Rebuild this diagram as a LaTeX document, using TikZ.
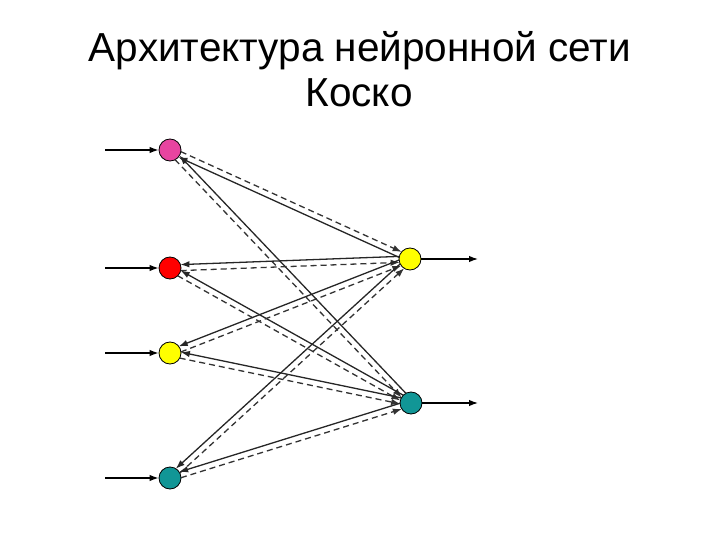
\documentclass[tikz,border=0pt]{standalone}
\usepackage{fontspec}
\setmainfont{Liberation Sans}
\usepackage{xcolor}
\usetikzlibrary{arrows.meta, calc}

\definecolor{kpink}{RGB}{232,68,160}
\definecolor{kred}{RGB}{255,0,0}
\definecolor{kyellow}{RGB}{255,255,0}
\definecolor{kteal}{RGB}{17,150,150}

\begin{document}
\begin{tikzpicture}[x=1pt,y=-1pt,line width=1.3pt,>={Latex[length=9pt,width=6.5pt]},
  neuron/.style={draw,circle,line width=0.8pt,inner sep=0pt,minimum size=22pt},
  back/.style={->,draw=black!85,shorten >=10.5pt,shorten <=10.5pt},
  fwd/.style={->,draw=black!80,dash pattern=on 6pt off 4pt,shorten >=10.5pt,shorten <=10.5pt}]
  \useasboundingbox (0,0) rectangle (720,540);
  %\tiny
  \node[anchor=base] (t1) at (360,62) {\fontsize{40.5}{48}\selectfont Архитектура нейронной сети};
  \node[anchor=base] (t2) at (359,107) {\fontsize{40.5}{48}\selectfont Коско};

  \node[neuron,fill=kpink] (l1) at (170,150) {};
  \node[neuron,fill=kred] (l2) at (170,268) {};
  \node[neuron,fill=kyellow] (l3) at (170,353) {};
  \node[neuron,fill=kteal] (l4) at (170,478) {};

  \node[neuron,fill=kyellow] (r1) at (410,259) {};
  \node[neuron,fill=kteal] (r2) at (411,403) {};

  \coordinate (i1) at (105,150);
  \coordinate (i2) at (105,268);
  \coordinate (i3) at (105,353);
  \coordinate (i4) at (105,478);
  \coordinate (o1) at (478,259);
  \coordinate (o2) at (478,403);

  \draw[->] (i1) -- (l1);
  \draw[->] (i2) -- (l2);
  \draw[->] (i3) -- (l3);
  \draw[->] (i4) -- (l4);
  \draw[->] (r1) -- (o1);
  \draw[->] (r2) -- (o2);

  % pink <-> yellow: dashed on top
  \draw[back] ($(r1)!3pt!90:(l1)$) -- ($(l1)!3pt!-90:(r1)$);
  \draw[fwd] ($(l1)!3pt!90:(r1)$) -- ($(r1)!3pt!-90:(l1)$);

  \draw[back] ($(r2)!3pt!-90:(l1)$) -- ($(l1)!3pt!90:(r2)$);
  \draw[fwd] ($(l1)!3pt!-90:(r2)$) -- ($(r2)!3pt!90:(l1)$);

  \draw[back] ($(r1)!3pt!-90:(l2)$) -- ($(l2)!3pt!90:(r1)$);
  \draw[fwd] ($(l2)!3pt!-90:(r1)$) -- ($(r1)!3pt!90:(l2)$);
  \draw[back] ($(r2)!3pt!-90:(l2)$) -- ($(l2)!3pt!90:(r2)$);
  \draw[fwd] ($(l2)!3pt!-90:(r2)$) -- ($(r2)!3pt!90:(l2)$);

  \draw[back] ($(r1)!3pt!-90:(l3)$) -- ($(l3)!3pt!90:(r1)$);
  \draw[fwd] ($(l3)!3pt!-90:(r1)$) -- ($(r1)!3pt!90:(l3)$);
  \draw[back] ($(r2)!3pt!-90:(l3)$) -- ($(l3)!3pt!90:(r2)$);
  \draw[fwd] ($(l3)!3pt!-90:(r2)$) -- ($(r2)!3pt!90:(l3)$);

  \draw[back] ($(r1)!3pt!-90:(l4)$) -- ($(l4)!3pt!90:(r1)$);
  \draw[fwd] ($(l4)!3pt!-90:(r1)$) -- ($(r1)!3pt!90:(l4)$);
  \draw[back] ($(r2)!3pt!-90:(l4)$) -- ($(l4)!3pt!90:(r2)$);
  \draw[fwd] ($(l4)!3pt!-90:(r2)$) -- ($(r2)!3pt!90:(l4)$);
\end{tikzpicture}
\end{document}
